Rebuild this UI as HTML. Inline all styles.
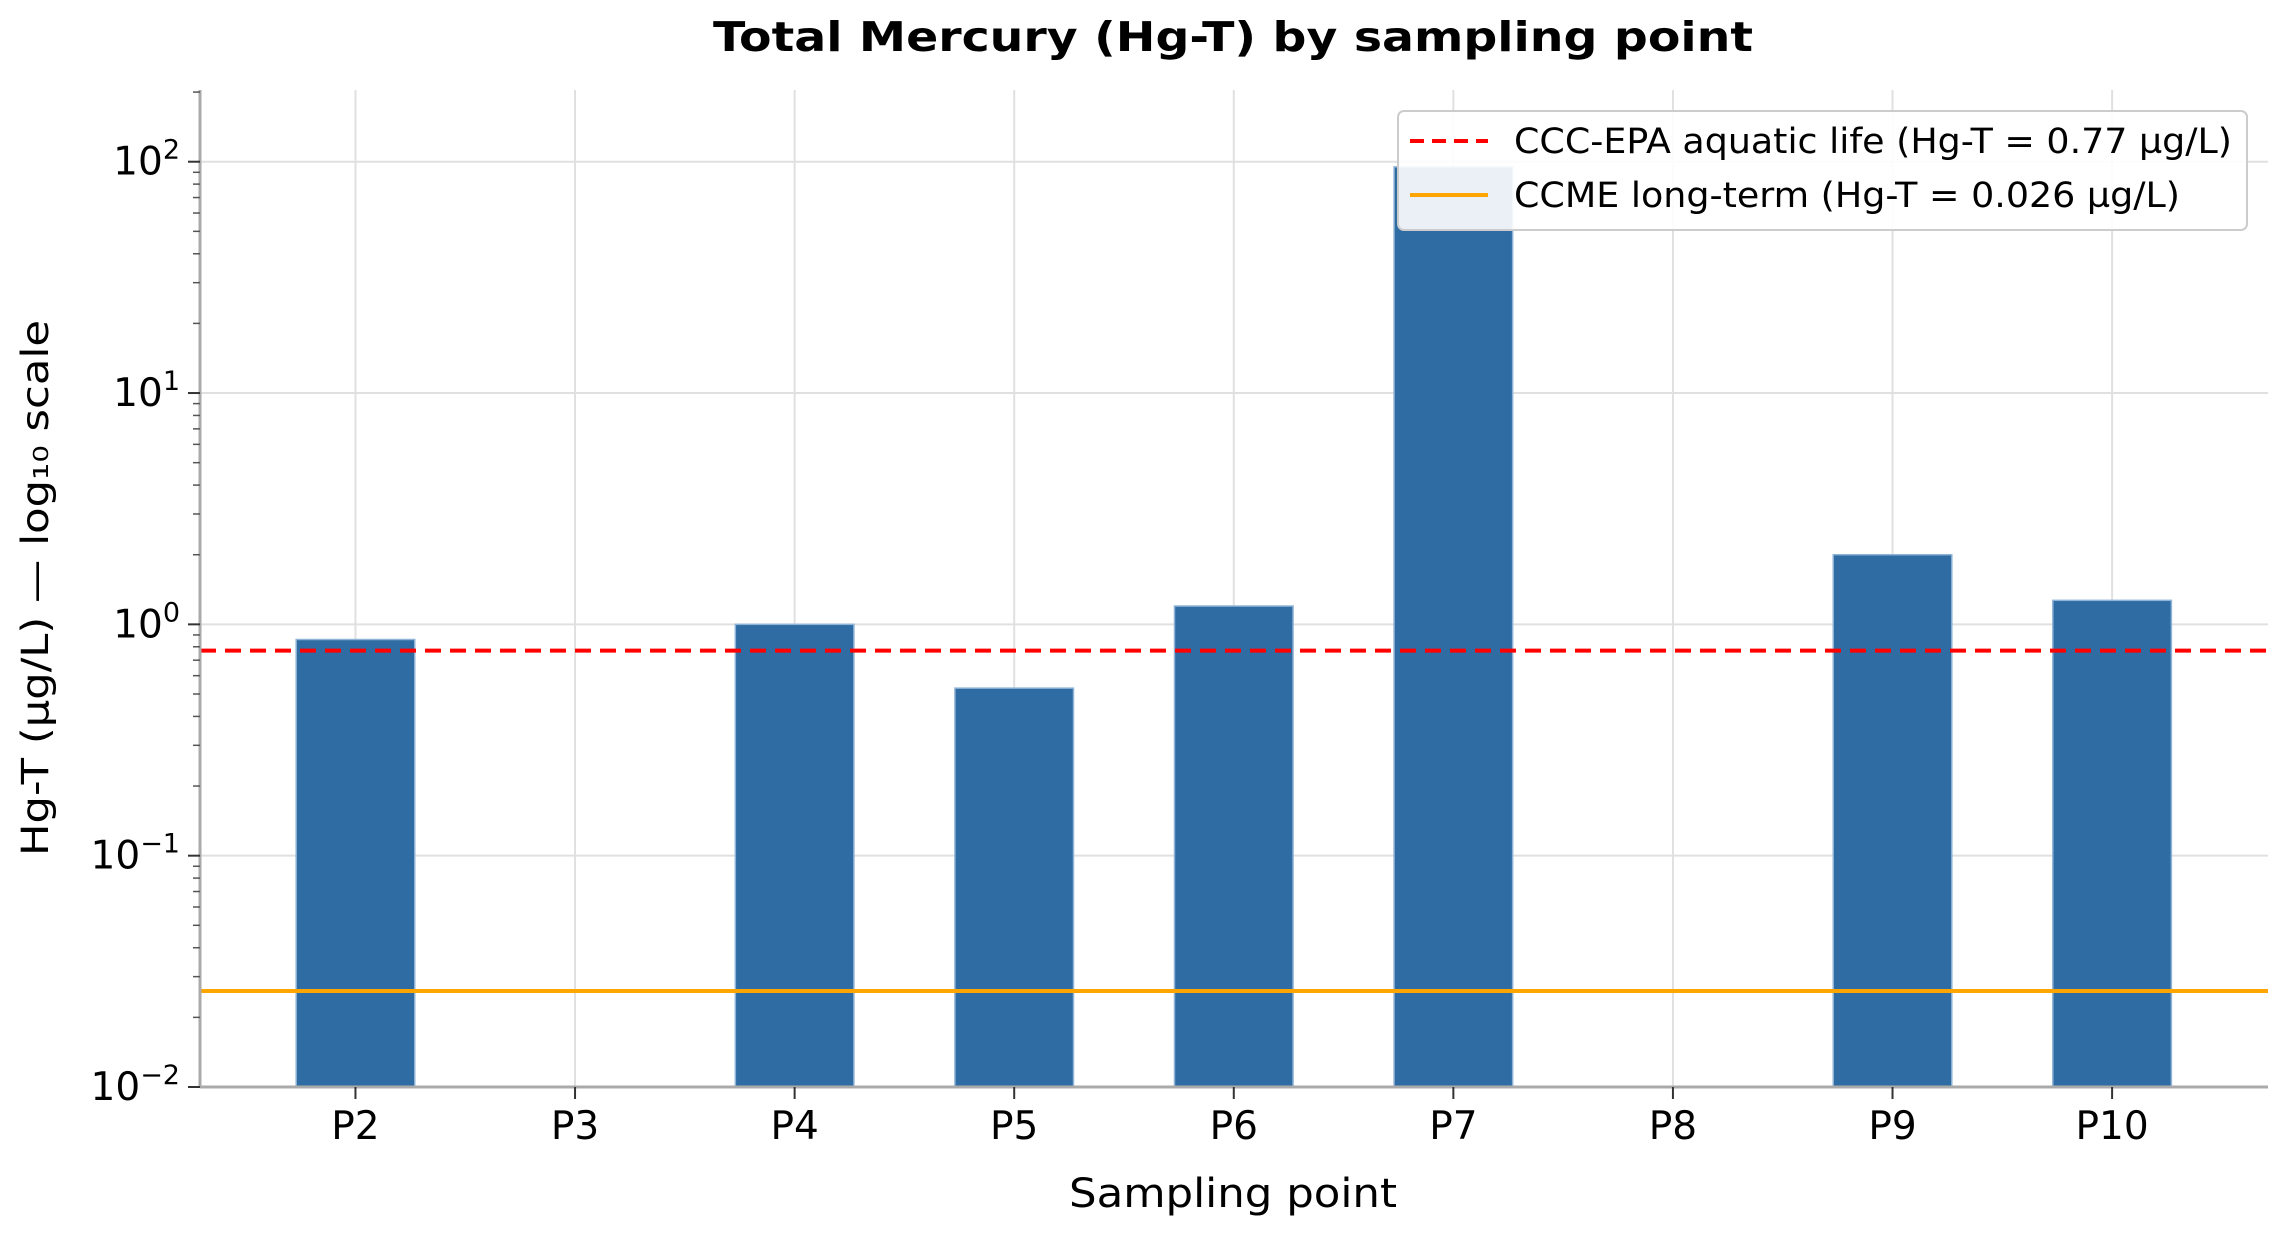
<!DOCTYPE html>
<html><head><meta charset="utf-8"><style>
body{margin:0;background:#fff}
svg{display:block;font-family:"DejaVu Sans","Liberation Sans",sans-serif}
</style></head><body>
<svg id="chart" width="2283" height="1233" viewBox="0 0 2283 1233" xmlns="http://www.w3.org/2000/svg">
<text x="1233" y="51" text-anchor="middle" font-size="41" font-weight="bold" textLength="1040" lengthAdjust="spacingAndGlyphs">Total Mercury (Hg-T) by sampling point</text>
<g id="grid"></g>
<g id="bars"></g>
<g id="refs"></g>
<g id="axes"></g>
<text x="1233" y="1207" text-anchor="middle" font-size="40" textLength="328" lengthAdjust="spacingAndGlyphs">Sampling point</text>
<text transform="translate(48,588) rotate(-90)" text-anchor="middle" font-size="37" textLength="536" lengthAdjust="spacingAndGlyphs">Hg-T (µg/L) — log₁₀ scale</text>
<g id="legend">
<rect x="1398" y="111" width="849" height="119" rx="6" fill="rgba(255,255,255,0.9)" stroke="#ccc" stroke-width="2"/>
<line x1="1410" y1="141" x2="1488" y2="141" stroke="#ff0000" stroke-width="4" stroke-dasharray="14,8"/>
<text x="1514" y="153" font-size="35" textLength="718" lengthAdjust="spacingAndGlyphs">CCC-EPA aquatic life (Hg-T = 0.77 µg/L)</text>
<line x1="1410" y1="195" x2="1488" y2="195" stroke="#ffa500" stroke-width="4"/>
<text x="1514" y="207" font-size="35" textLength="666" lengthAdjust="spacingAndGlyphs">CCME long-term (Hg-T = 0.026 µg/L)</text>
</g>
</svg>
<script>
const categories = ["P2","P3","P4","P5","P6","P7","P8","P9","P10"];
const hgValues = [0.86, null, 1.0, 0.53, 1.2, 95, null, 2.0, 1.27];
const yTickExps = [-2, -1, 0, 1, 2];
const epaLimit = 0.77;
const ccmeLimit = 0.026;

const NS = "http://www.w3.org/2000/svg";
const L = 200, R = 2268, T = 90, B = 1087;
const xMin = -0.708, xMax = categories.length - 1 + 0.71;
const yMinE = -2, yMaxE = 2.31;
const x = i => L + (i - xMin) / (xMax - xMin) * (R - L);
const y = v => B - (Math.log10(v) - yMinE) / (yMaxE - yMinE) * (B - T);
const bw = (x(1) - x(0)) * 0.54;
function mk(tag, attrs, parent) {
  const e = document.createElementNS(NS, tag);
  for (const k in attrs) e.setAttribute(k, attrs[k]);
  parent.appendChild(e); return e;
}
const grid = document.getElementById('grid'), bars = document.getElementById('bars'),
      refs = document.getElementById('refs'), axes = document.getElementById('axes');

categories.forEach((c, i) => {
  const g = mk('line', {x1: x(i), x2: x(i), y1: T, y2: B, stroke: '#e0e0e0', 'stroke-width': 2}, grid);
  
  
});
yTickExps.forEach(e => {
  const g = mk('line', {x1: L, x2: R, y1: y(Math.pow(10, e)), y2: y(Math.pow(10, e)), stroke: '#e0e0e0', 'stroke-width': 2}, grid);
  
  
});

hgValues.forEach((v, i) => {
  if (v == null) return;
  const r = mk('rect', {x: x(i) - bw / 2, y: y(v), width: bw, height: B - y(v), fill: '#2e6ca3', stroke: '#8fb3d6', 'stroke-width': 1.5}, bars);
  
  
});

const epa = mk('line', {x1: L, x2: R, y1: y(epaLimit), y2: y(epaLimit), stroke: '#ff0000', 'stroke-width': 4, 'stroke-dasharray': '16,9'}, refs);


const ccme = mk('line', {x1: L, x2: R, y1: y(ccmeLimit), y2: y(ccmeLimit), stroke: '#ffa500', 'stroke-width': 4}, refs);



const ls = mk('line', {x1: L, x2: L, y1: T, y2: B, stroke: '#aaa', 'stroke-width': 3}, axes);


const bs = mk('line', {x1: L, x2: R, y1: B, y2: B, stroke: '#aaa', 'stroke-width': 3}, axes);



yTickExps.forEach(e => {
  const yy = y(Math.pow(10, e));
  const t = mk('line', {x1: L - 12, x2: L, y1: yy, y2: yy, stroke: '#333', 'stroke-width': 2}, axes);
  
  
  const lab = mk('text', {x: L - 20, y: yy + 13, 'text-anchor': 'end', 'font-size': 39}, axes);
  
  
  lab.textContent = '10';
  const sup = mk('tspan', {dy: -16, 'font-size': 27}, lab);
  sup.textContent = e < 0 ? '\u2212' + (-e) : String(e);
  for (let m = 2; m <= 9; m++) {
    const v = m * Math.pow(10, e);
    if (Math.log10(v) > yMaxE) break;
    const mt = mk('line', {x1: L - 7, x2: L, y1: y(v), y2: y(v), stroke: '#555', 'stroke-width': 1.5}, axes);
    
    
  }
});
categories.forEach((c, i) => {
  const t = mk('line', {x1: x(i), x2: x(i), y1: B, y2: B + 12, stroke: '#333', 'stroke-width': 2}, axes);
  
  
  const lab = mk('text', {x: x(i), y: B + 52, 'text-anchor': 'middle', 'font-size': 39}, axes);
  
  
  lab.textContent = c;
});
</script>
</body></html>
